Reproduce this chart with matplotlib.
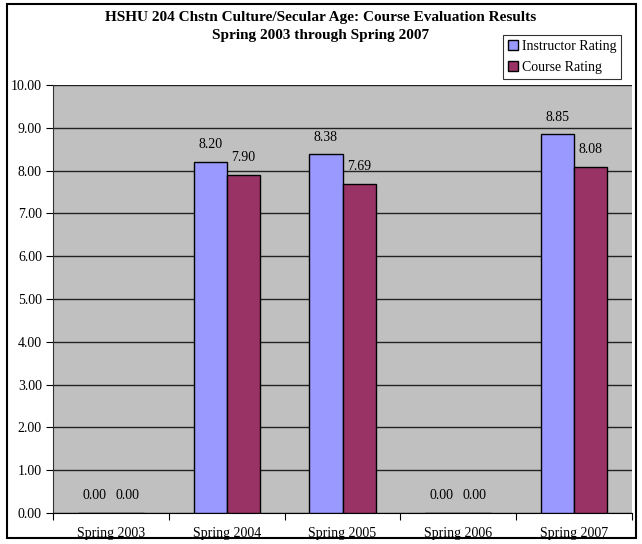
import matplotlib.pyplot as plt
import numpy as np
from matplotlib.patches import Rectangle

categories = ["Spring 2003", "Spring 2004", "Spring 2005", "Spring 2006", "Spring 2007"]
instructor = [0.00, 8.20, 8.38, 0.00, 8.85]
course = [0.00, 7.90, 7.69, 0.00, 8.08]
yticks = [0, 1, 2, 3, 4, 5, 6, 7, 8, 9, 10]

plt.rcParams['font.family'] = ['Liberation Serif', 'DejaVu Serif']

fig = plt.figure(figsize=(6.42, 5.44), dpi=100)
ax = fig.add_axes([53/642, 1 - 513/544, 579/642, 428/544])

x = np.arange(len(categories))
w = 0.285
ax.bar(x - w/2, instructor, w, color='#9999FF', edgecolor='black', linewidth=1, label='Instructor Rating', zorder=3)
ax.bar(x + w/2, course, w, color='#993366', edgecolor='black', linewidth=1, label='Course Rating', zorder=3)

for xi, v in zip(x - w/2, instructor):
    ax.text(xi, v + 0.25, f"{v:.2f}", ha='center', va='bottom', fontsize=10, zorder=4)
for xi, v in zip(x + w/2, course):
    ax.text(xi, v + 0.25, f"{v:.2f}", ha='center', va='bottom', fontsize=10, zorder=4)

ax.set_facecolor('#C0C0C0')
ax.set_xlim(-0.5, len(categories) - 0.5)
ax.set_ylim(0, 10)
ax.set_yticks(yticks)
ax.set_yticklabels([f"{t:.2f}" for t in yticks], fontsize=10)
ax.yaxis.grid(True, color='#222222', linewidth=1, zorder=1)
ax.set_axisbelow(True)

ax.set_xticks(np.arange(len(categories) + 1) - 0.5)
ax.set_xticklabels([])
ax.set_xticks(x, minor=True)
ax.set_xticklabels(categories, minor=True, fontsize=10)
ax.tick_params(axis='x', which='minor', length=0, pad=10)
ax.tick_params(axis='x', which='major', length=5, direction='out', color='black')
ax.tick_params(axis='y', length=5, direction='out', pad=3)

for s in ['top', 'right']:
    ax.spines[s].set_visible(False)
ax.spines['left'].set_color('#333333')
ax.spines['bottom'].set_color('black')

fig.text(0.5, 1 - 27/544, "HSHU 204 Chstn Culture/Secular Age: Course Evaluation Results\nSpring 2003 through Spring 2007",
         ha='center', va='center', fontsize=11, fontweight='bold', linespacing=1.5)

leg = fig.legend(loc='upper left', bbox_to_anchor=(503/642, 1 - 35/544), fontsize=10,
                 frameon=True, fancybox=False, edgecolor='black', handlelength=0.7,
                 handleheight=0.7, handletextpad=0.3, borderpad=0.35, labelspacing=0.6,
                 borderaxespad=0)
leg.get_frame().set_linewidth(0.8)

fig.patches.append(Rectangle((7/642, 6/544), 629/642, 534/544, transform=fig.transFigure,
                             fill=False, edgecolor='black', linewidth=1.5))

fig.savefig('out.png', dpi=100)
